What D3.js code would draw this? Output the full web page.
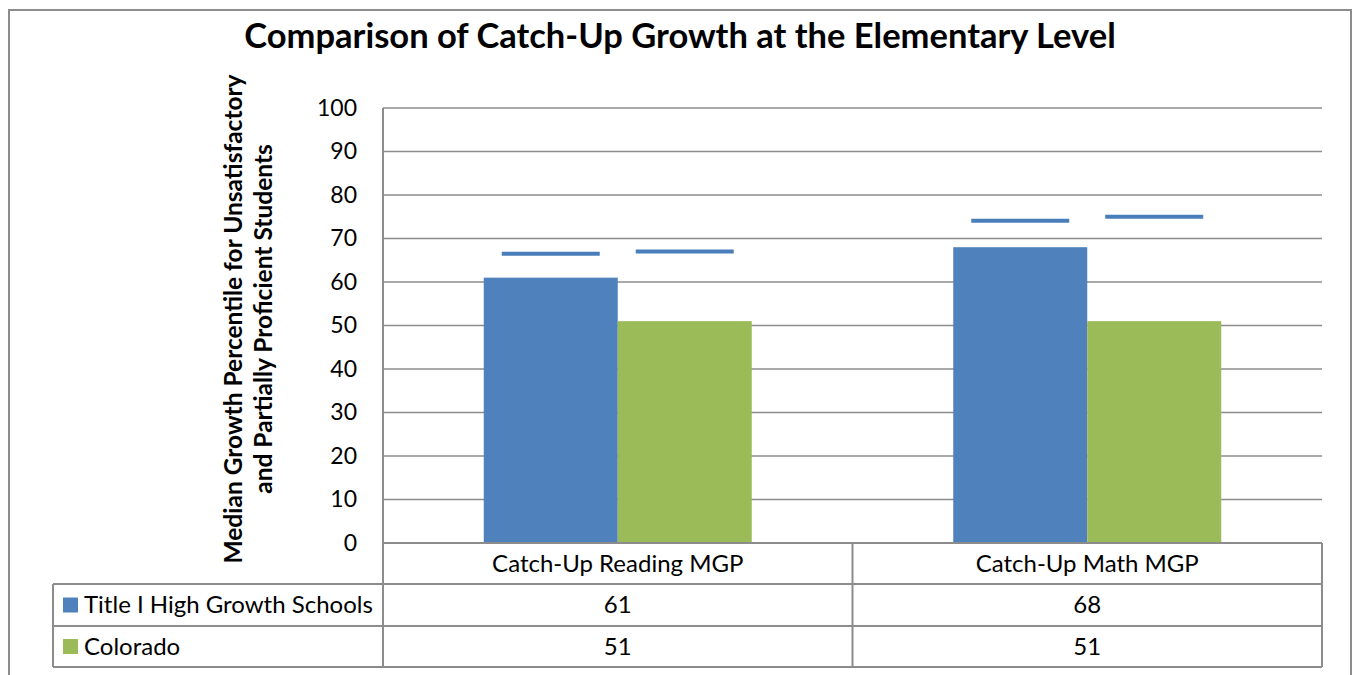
<!DOCTYPE html>
<html>
<head>
<meta charset="utf-8">
<script src="https://cdn.jsdelivr.net/npm/d3@7"></script>
<style>
  body { margin: 0; background: #fff; }
  text { font-family: Lato, "Open Sans", sans-serif; fill: #000; }
</style>
</head>
<body>
<svg id="chart" width="1353" height="675"></svg>
<script>
"use strict";

// data
var categories = ["Catch-Up Reading MGP", "Catch-Up Math MGP"];
var seriesNames = ["Title I High Growth Schools", "Colorado"];
var titleOne = [61, 68];
var colorado = [51, 51];
// short blue dashes drawn above each bar
var markTitleOne = [66.5, 74.1];
var markColorado = [67.0, 75.0];
var yTicks = [0, 10, 20, 30, 40, 50, 60, 70, 80, 90, 100];

var colors = ["#4f81bd", "#9bbb59"];
var lineCol = "#8c8c8c";
var bodySize = "24px";

var svg = d3.select("#chart");

// outer frame (open at the bottom)
svg.append("path")
    .attr("d", "M9,675 V10 H1351 V675")
    .attr("fill", "none")
    .attr("stroke", lineCol)
    .attr("stroke-width", 2);

// title
svg.append("text")
    .attr("x", 680).attr("y", 48)
    .attr("text-anchor", "middle")
    .style("font-size", "34.5px")
    .style("font-weight", "bold")
    .text("Comparison of Catch-Up Growth at the Elementary Level");

var plotLeft = 383, plotRight = 1322, plotTop = 108, plotBottom = 543;

var x = d3.scaleBand().domain(categories).range([plotLeft, plotRight]);
var y = d3.scaleLinear().domain([0, 100]).range([plotBottom, plotTop]);
var barW = 134;

// gridlines
svg.append("g").selectAll("line")
    .data(yTicks)
    .join("line")
    .attr("x1", plotLeft).attr("x2", plotRight)
    .attr("y1", function (d) { return y(d); })
    .attr("y2", function (d) { return y(d); })
    .attr("stroke", lineCol)
    .attr("stroke-width", 1.5);

// y axis labels
var yAxis = svg.append("g")
    .attr("transform", "translate(" + plotLeft + ",0)")
    .call(d3.axisLeft(y).tickValues(yTicks).tickSize(0).tickPadding(26));
yAxis.select(".domain").remove();
yAxis.selectAll("text")
    .style("font-family", "Lato, 'Open Sans', sans-serif")
    .style("font-size", "23px")
    .attr("fill", "#000");

// y axis title
var yTitle = svg.append("text")
    .attr("transform", "translate(249,319) rotate(-90)")
    .attr("text-anchor", "middle")
    .style("font-size", "24.5px")
    .style("font-weight", "bold");
yTitle.append("tspan").attr("x", 0).attr("dy", "-0.3em")
    .text("Median Growth Percentile for Unsatisfactory");
yTitle.append("tspan").attr("x", 0).attr("dy", "1.25em")
    .text("and Partially Proficient Students");

// bars
var seriesVals = [titleOne, colorado];
seriesVals.forEach(function (vals, s) {
    svg.append("g").selectAll("rect")
        .data(categories)
        .join("rect")
        .attr("x", function (d) { return x(d) + x.bandwidth() / 2 - barW + s * barW; })
        .attr("y", function (d, i) { return y(vals[i]); })
        .attr("width", barW)
        .attr("height", function (d, i) { return y(0) - y(vals[i]); })
        .attr("fill", colors[s]);
});

// dash markers
var marks = [markTitleOne, markColorado];
var dashW = 98;
marks.forEach(function (vals, s) {
    svg.append("g").selectAll("line")
        .data(categories)
        .join("line")
        .attr("x1", function (d) { return x(d) + x.bandwidth() / 2 - barW / 2 + s * barW - dashW / 2; })
        .attr("x2", function (d) { return x(d) + x.bandwidth() / 2 - barW / 2 + s * barW + dashW / 2; })
        .attr("y1", function (d, i) { return y(vals[i]); })
        .attr("y2", function (d, i) { return y(vals[i]); })
        .attr("stroke", "#4a7ebb")
        .attr("stroke-width", 4);
});

// data table
var rowTop = [543, 584, 626, 667];
var tableLeft = 53;
var tbl = svg.append("g")
    .attr("stroke", lineCol)
    .attr("stroke-width", 2)
    .attr("fill", "none");

// vertical axis line through the table
tbl.append("line").attr("x1", plotLeft).attr("x2", plotLeft)
    .attr("y1", plotTop).attr("y2", rowTop[3]);
// category dividers + right edge
tbl.selectAll(".vdiv")
    .data(categories)
    .join("line")
    .attr("x1", function (d) { return x(d) + x.bandwidth(); })
    .attr("x2", function (d) { return x(d) + x.bandwidth(); })
    .attr("y1", rowTop[0]).attr("y2", rowTop[3]);
// horizontal lines
tbl.append("line").attr("x1", plotLeft).attr("x2", plotRight).attr("y1", rowTop[0]).attr("y2", rowTop[0]);
[1, 2, 3].forEach(function (r) {
    tbl.append("line").attr("x1", tableLeft).attr("x2", plotRight)
        .attr("y1", rowTop[r]).attr("y2", rowTop[r]);
});
tbl.append("line").attr("x1", tableLeft).attr("x2", tableLeft)
    .attr("y1", rowTop[1]).attr("y2", rowTop[3]);

// category labels
svg.append("g").selectAll("text")
    .data(categories)
    .join("text")
    .attr("x", function (d) { return x(d) + x.bandwidth() / 2; })
    .attr("y", (rowTop[0] + rowTop[1]) / 2)
    .attr("dy", "0.35em")
    .attr("text-anchor", "middle")
    .style("font-size", bodySize)
    .text(function (d) { return d; });

// series rows
seriesVals.forEach(function (vals, s) {
    var cy = (rowTop[s + 1] + rowTop[s + 2]) / 2;
    svg.append("rect")
        .attr("x", 63).attr("y", cy - 7.5)
        .attr("width", 15).attr("height", 15)
        .attr("fill", colors[s]);
    svg.append("text")
        .attr("x", 84).attr("y", cy)
        .attr("dy", "0.35em")
        .style("font-size", bodySize)
        .text(seriesNames[s]);
    svg.append("g").selectAll("text")
        .data(categories)
        .join("text")
        .attr("x", function (d) { return x(d) + x.bandwidth() / 2; })
        .attr("y", cy)
        .attr("dy", "0.35em")
        .attr("text-anchor", "middle")
        .style("font-size", bodySize)
        .text(function (d, i) { return vals[i]; });
});
</script>
</body>
</html>
